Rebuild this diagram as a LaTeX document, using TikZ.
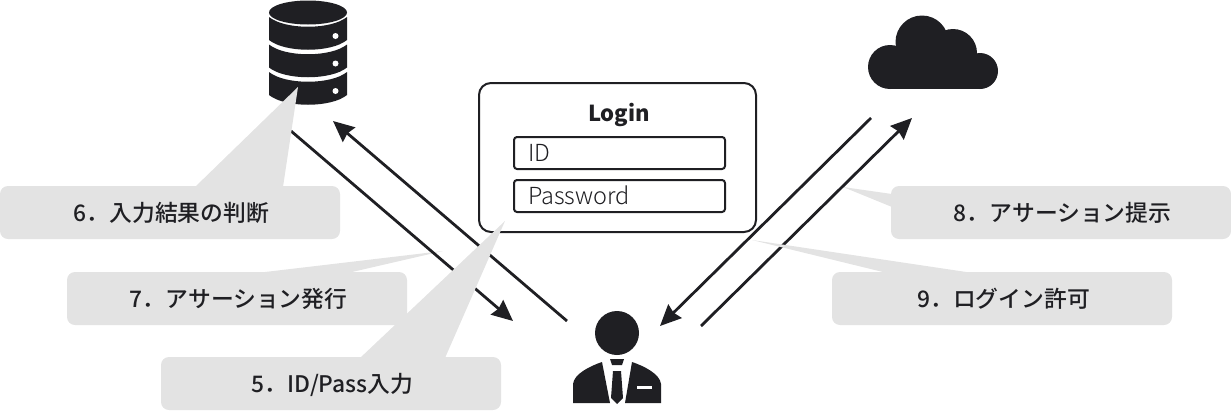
\documentclass[tikz,border=0pt]{standalone}
\usepackage{fontspec}
\setmainfont{Noto Sans CJK JP}
\newfontfamily\labelfont{Noto Sans CJK JP Medium}
\newfontfamily\fieldfont{Noto Sans CJK JP Light}
\usetikzlibrary{arrows.meta}
\definecolor{iconblack}{HTML}{1F1F23}
\definecolor{calloutgray}{HTML}{E3E3E3}
\tikzset{
    calloutbox/.style={fill=calloutgray, rounded corners=8pt, minimum width=340pt, minimum height=53pt, inner sep=0pt, text height=21pt, text depth=4pt, text=iconblack, font=\fontsize{22.8}{26}\labelfont},
    wedge/.style={fill=calloutgray},
    flow/.style={draw=iconblack, line width=2.8pt, -{Stealth[length=21pt,width=19pt,inset=2pt]}},
    fieldbox/.style={draw=iconblack, line width=2pt, rounded corners=3pt, text width=183pt, inner xsep=14pt, inner ysep=0pt, minimum height=32pt, text height=21pt, text depth=4pt, align=left, text=iconblack, font=\fontsize{23.5}{26}\fieldfont}
}
\begin{document}
\begin{tikzpicture}[x=1pt, y=-1pt]
    \useasboundingbox (0,0) rectangle (1231,410);

    % Database
    \fill[iconblack] (308,12.5) ellipse (39pt and 12pt);
    \foreach \dy in {0,27.5,55} {
        \fill[iconblack, shift={(0pt,-\dy pt)}] (269,17) .. controls (285,30) and (331,30) .. (347,17) -- (347,40) .. controls (331,53) and (285,53) .. (269,40) -- cycle;
        \fill[white] (335.5,36+\dy) circle (3pt);
    }

    % Cloud
    \fill[iconblack] (890,67) circle (22pt);
    \fill[iconblack] (922,42) circle (26.5pt);
    \fill[iconblack] (953,53) circle (24pt);
    \fill[iconblack] (980,71) circle (18pt);
    \fill[iconblack] (890,60) rectangle (980,89);

    % User
    \fill[iconblack] (617,333) circle (22pt);
    \fill[iconblack] (573,403) -- (573,384) .. controls (574,374) and (590,366) .. (602,362) -- (610,403) -- cycle;
    \fill[iconblack] (661,403) -- (661,384) .. controls (660,374) and (644,366) .. (632,362) -- (625,403) -- cycle;
    \fill[iconblack] (610,359) -- (624,359) -- (622,365) -- (612,365) -- cycle;
    \fill[iconblack] (613,371) -- (621,371) -- (623,398) -- (617,404) -- (611,398) -- cycle;
    \fill[white] (637,386) rectangle (652,389);

    % Login form
    \node[draw=iconblack, line width=2pt, rounded corners=12pt, minimum width=277pt, minimum height=149pt] (LoginForm) at (617.5,157.5) {};
    \node[text=iconblack, text height=16pt, text depth=5pt, font=\fontsize{22}{26}\selectfont\bfseries] (LoginTitle) at (619,115.5) {Login};
    \node[fieldbox] (FieldID) at (619.5,153) {ID};
    \node[fieldbox] (FieldPass) at (619.5,196) {Password};

    % Callout tips and arrow ends
    \coordinate (TipJudge) at (298,87);
    \coordinate (TipIssue) at (443,251);
    \coordinate (TipInput) at (505,221);
    \coordinate (TipShow) at (843,187);
    \coordinate (TipAllow) at (752,240);
    \coordinate (DbOut) at (291,131);
    \coordinate (DbIn) at (333,121);
    \coordinate (UserIn) at (513,321);
    \coordinate (UserOut) at (567,321);
    \coordinate (CloudOut) at (871,118);
    \coordinate (CloudIn) at (912,118);
    \coordinate (UserInR) at (660,326);
    \coordinate (UserOutR) at (701,326);

    % Wedge below the arrows
    \fill[wedge] (TipIssue) -- (265,272) -- (352,272) -- cycle;

    % Arrows
    \draw[flow] (DbOut) -- (UserIn);
    \draw[flow] (UserOut) -- (DbIn);
    \draw[flow] (CloudOut) -- (UserInR);
    \draw[flow] (UserOutR) -- (CloudIn);

    % Wedges above the arrows
    \fill[wedge] (TipJudge) -- (195,187) -- (283,187) -- cycle;
    \fill[wedge] (TipInput) -- (360,358) -- (445,358) -- cycle;
    \fill[wedge] (TipShow) -- (892,194) -- (892,207) -- cycle;
    \fill[wedge] (TipAllow) -- (887,273) -- (973,273) -- cycle;

    % Callouts
    \node[calloutbox] (JudgeBox) at (170,212.5) {\hspace{3pt}6．入力結果の判断};
    \node[calloutbox] (IssueBox) at (237,298.5) {\hspace{3pt}7．アサーション発行};
    \node[calloutbox] (InputBox) at (331,383.5) {\hspace{3pt}5．ID/Pass入力};
    \node[calloutbox] (ShowBox) at (1061,212.5) {\hspace{3pt}8．アサーション提示};
    \node[calloutbox] (AllowBox) at (1002,298.5) {\hspace{3pt}9．ログイン許可};
\end{tikzpicture}
\end{document}
